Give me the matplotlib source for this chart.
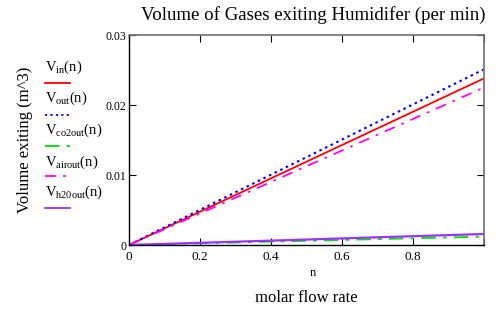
import numpy as np
import matplotlib
matplotlib.use("Agg")
import matplotlib.pyplot as plt
from matplotlib.lines import Line2D

matplotlib.rc("font", family="Liberation Serif")
matplotlib.rc("mathtext", fontset="custom", rm="Liberation Serif", it="Liberation Serif")

# data
n = [0.0, 0.25, 0.5, 0.75, 1.0]
v_in = [0.0, 0.00595, 0.0119, 0.01785, 0.0238]
v_out = [0.0, 0.00628, 0.01255, 0.01883, 0.0251]
v_co2out = [0.0, 0.0003, 0.0006, 0.0009, 0.0012]
v_airout = [0.0, 0.00563, 0.01125, 0.01688, 0.0225]
v_h2oout = [0.0, 0.00039, 0.00078, 0.00118, 0.00157]

names = [r"$\mathrm{V_{in}(n)}$", r"$\mathrm{V_{out}(n)}$", r"$\mathrm{V_{co2out}(n)}$",
         r"$\mathrm{V_{airout}(n)}$", r"$\mathrm{V_{h20out}(n)}$"]
colors = ["#ff0000", "#0000ff", "#00dd00", "#ff00ff", "#9933ff"]
styles = ["-", (0, (1.2, 1.8)), (0, (8, 4, 2, 4)), (0, (6, 4, 1.5, 4)), "-"]
widths = [1.3, 1.5, 1.3, 1.3, 1.6]

fig = plt.figure(figsize=(5.04, 3.14), dpi=100)
ax = fig.add_axes([129/504, 1 - 245/314, 355/504, 210/314])

for y, c, ls, lw in zip([v_in, v_out, v_co2out, v_airout, v_h2oout], colors, styles, widths):
    ax.plot(n, y, color=c, ls=ls, lw=lw)

ax.set_xlim(0, 1)
ax.set_ylim(0, 0.03)
ax.set_xticks([0, 0.2, 0.4, 0.6, 0.8, 1.0])
ax.set_xticklabels(["0", "0.2", "0.4", "0.6", "0.8", ""])
ax.set_yticks([0, 0.01, 0.02, 0.03])
ax.set_yticklabels(["0", "0.01", "0.02", "0.03"])
ax.tick_params(direction="in", top=True, right=True, length=5, width=0.8)
ax.tick_params(axis="x", labelsize=9.5, pad=4)
ax.tick_params(axis="y", labelsize=8.5, pad=2)
for s in ["top", "right"]:
    ax.spines[s].set_color("#707070")
    ax.spines[s].set_linewidth(1.2)
for s in ["left", "bottom"]:
    ax.spines[s].set_color("black")
    ax.spines[s].set_linewidth(1.0)

fig.text(313/504, 1 - 15/314, "Volume of Gases exiting Humidifer (per min)",
         ha="center", va="center", fontsize=13.6)
fig.text(25/504, 1 - 140/314, "Volume exiting (m^3)", rotation=90,
         ha="center", va="center", fontsize=12)
fig.text(313/504, 1 - 273/314, "n", ha="center", va="center", fontsize=9)
fig.text(306/504, 1 - 298/314, "molar flow rate", ha="center", va="center", fontsize=12)

# legend stacked on the left, Mathcad style
text_y = [67, 98, 130, 162, 192]
line_y = [83, 115, 146, 176, 208]
for name, c, ls, ty, ly in zip(names, colors, styles, text_y, line_y):
    fig.text(45/504, 1 - ty/314, name, ha="left", va="center", fontsize=10.5)
    fig.add_artist(Line2D([45/504, 70/504], [1 - ly/314, 1 - ly/314],
                          color=c, ls=ls, lw=1.3, transform=fig.transFigure))

fig.savefig("out.png", dpi=100)
